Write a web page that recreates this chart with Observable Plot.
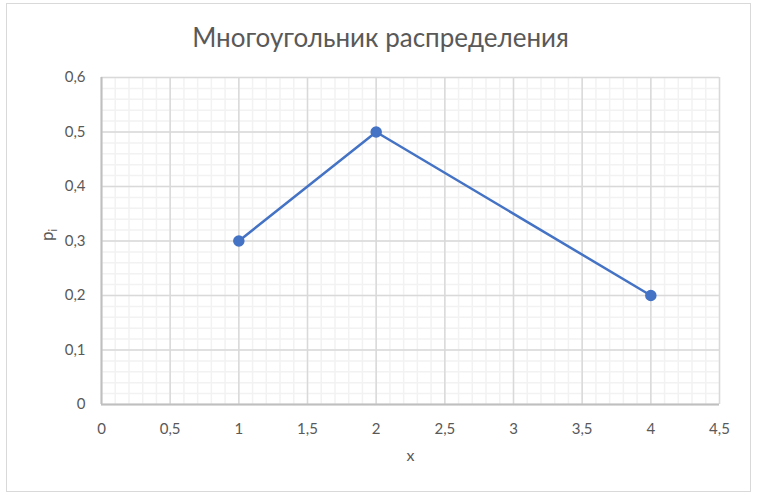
<!DOCTYPE html>
<html>
<head>
<meta charset="utf-8">
<script src="https://cdn.jsdelivr.net/npm/d3@7"></script>
<script src="https://cdn.jsdelivr.net/npm/@observablehq/plot@0.6"></script>
<style>
  html, body { margin: 0; padding: 0; background: #fff; }
  #wrap { position: relative; width: 764px; height: 502px; }
  #frame { position: absolute; left: 6px; top: 3px; width: 745px; height: 489px; border: 1px solid #d9d9d9; box-sizing: border-box; pointer-events: none; }
  svg { font-family: Lato, "Open Sans", sans-serif; }
</style>
</head>
<body>
<div id="wrap"><div id="frame"></div></div>
<script>
const title = "Многоугольник распределения";
const xLabel = "x";
const yLabelMain = "p";
const yLabelSub = "i";
const xValues = [1, 2, 4];
const pValues = [0.3, 0.5, 0.2];
const xTicks = [0, 0.5, 1, 1.5, 2, 2.5, 3, 3.5, 4, 4.5];
const yTicks = [0, 0.1, 0.2, 0.3, 0.4, 0.5, 0.6];

const data = xValues.map((x, i) => ({x, p: pValues[i]}));
const xMinor = d3.range(0, 46).map(d => d / 10);
const yMinor = d3.range(0, 31).map(d => d / 50);
const fmt = d => String(+d.toFixed(2)).replace(".", ",");

const chart = Plot.plot({
  width: 764,
  height: 502,
  marginLeft: 101,
  marginRight: 45,
  marginTop: 77,
  marginBottom: 98,
  x: {domain: [0, 4.5]},
  y: {domain: [0, 0.6]},
  style: {fontFamily: "Lato, 'Open Sans', sans-serif", background: "transparent"},
  marks: [
    Plot.ruleX(xMinor, {stroke: "#f2f2f2", strokeWidth: 1.5, strokeOpacity: 1}),
    Plot.ruleY(yMinor, {stroke: "#f2f2f2", strokeWidth: 1.5, strokeOpacity: 1}),
    Plot.ruleX(xTicks, {stroke: "#d9d9d9", strokeWidth: 1.5, strokeOpacity: 1}),
    Plot.ruleY(yTicks, {stroke: "#d9d9d9", strokeWidth: 1.5, strokeOpacity: 1}),
    Plot.ruleX([0], {stroke: "#bfbfbf", strokeWidth: 2}),
    Plot.ruleY([0], {stroke: "#bfbfbf", strokeWidth: 2}),
    Plot.axisX({ticks: xTicks, tickSize: 0, tickPadding: 19, tickFormat: fmt, fontSize: 15, color: "#595959", label: null}),
    Plot.axisY({ticks: yTicks, tickSize: 0, tickPadding: 16, tickFormat: fmt, fontSize: 15, color: "#595959", label: null}),
    Plot.line(data, {x: "x", y: "p", stroke: "#4472c4", strokeWidth: 2.5}),
    Plot.dot(data, {x: "x", y: "p", r: 5, fill: "#4472c4", stroke: "#4472c4"}),
    Plot.text([title], {frameAnchor: "top", dx: -30, dy: -49, fontSize: 26, fill: "#595959"}),
    Plot.text([xLabel], {frameAnchor: "bottom", dy: 56, fontSize: 16, fill: "#595959"}),
    Plot.text([yLabelMain], {frameAnchor: "left", dx: -54, dy: 0, rotate: -90, fontSize: 17, fill: "#595959", className: "ylab"})
  ]
});
document.getElementById("wrap").prepend(chart);
// add subscript to the y label
d3.select(chart).selectAll(".ylab text").each(function() {
  const t = d3.select(this);
  t.append("tspan").attr("font-size", 11).attr("dy", "0.35em").text(yLabelSub);
});
</script>
</body>
</html>
